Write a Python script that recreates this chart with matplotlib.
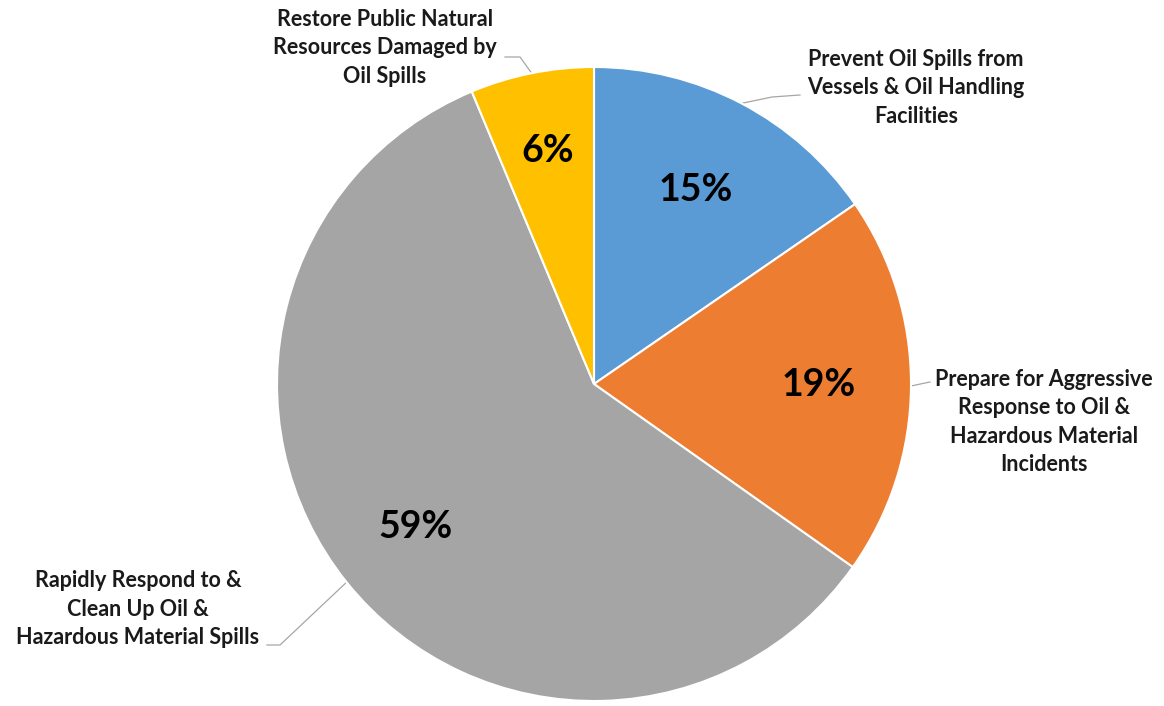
import numpy as np
import matplotlib
matplotlib.use("Agg")
import matplotlib.pyplot as plt

plt.rcParams['font.family'] = ['Lato', 'DejaVu Sans']

categories = [
    "Prevent Oil Spills from\nVessels & Oil Handling\nFacilities",
    "Prepare for Aggressive\nResponse to Oil &\nHazardous Material\nIncidents",
    "Rapidly Respond to &\nClean Up Oil &\nHazardous Material Spills",
    "Restore Public Natural\nResources Damaged by\nOil Spills",
]
shares = [15.4, 19.4, 58.9, 6.3]
pct_labels = ["15%", "19%", "59%", "6%"]
colors = ["#5B9BD5", "#ED7D31", "#A5A5A5", "#FFC000"]

W, H = 1164, 706
fig = plt.figure(figsize=(W / 100, H / 100), dpi=100)
ax = fig.add_axes([0, 0, 1, 1])

cx, cy, R = 594, H - 384, 317
wedges, _ = ax.pie(shares, colors=colors, startangle=90, counterclock=False,
                   center=(cx, cy), radius=R, frame=True,
                   wedgeprops=dict(edgecolor='white', linewidth=1.5))
ax.set_xlim(0, W)
ax.set_ylim(0, H)
ax.set_aspect('equal')
ax.axis('off')

# label layout: text centre and leader line points on the text side (pixels)
label_pos = [(916, H - 88), (1044, H - 422), (138, H - 609), (385, H - 48)]
line_paths = [
    [(800, H - 95), (772, H - 97)],
    [(930, H - 382)],
    [(267, H - 645), (280, H - 645)],
    [(505, H - 57), (520, H - 57)],
]
pct_dist = [0.69, 0.71, 0.72, 0.75]

for w, cat, pct, pos, path, d in zip(wedges, categories, pct_labels,
                                     label_pos, line_paths, pct_dist):
    mid = np.deg2rad((w.theta1 + w.theta2) / 2)
    ax.text(cx + d * R * np.cos(mid), cy + d * R * np.sin(mid), pct,
            ha='center', va='center', fontsize=27, fontweight='bold',
            color='black')
    ex, ey = cx + R * np.cos(mid), cy + R * np.sin(mid)
    pts = path + [(ex, ey)]
    ax.plot([p[0] for p in pts], [p[1] for p in pts], color='#A6A6A6',
            lw=0.9, zorder=0.5)
    ax.text(pos[0], pos[1], cat, ha='center', va='center', fontsize=15.5,
            fontweight='bold', color='#1a1a1a', linespacing=1.45)

fig.savefig("out.png", dpi=100)
